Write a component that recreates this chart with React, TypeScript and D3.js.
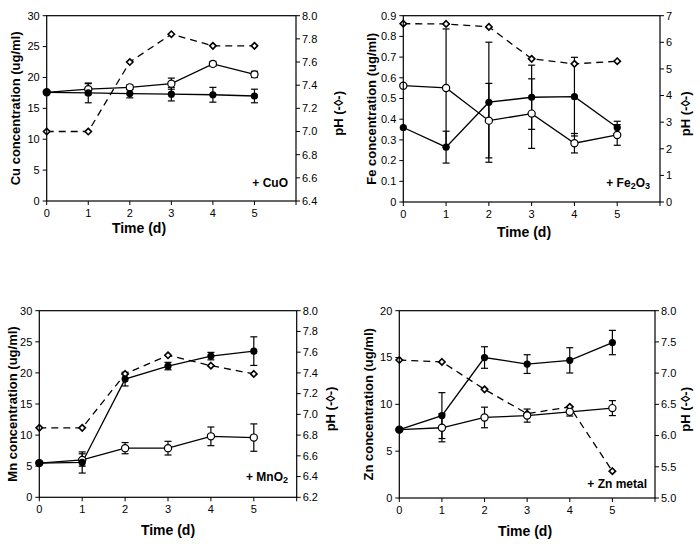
import * as d3 from 'd3';

const days = [0, 1, 2, 3, 4, 5];

// + CuO
const cuFilled = [17.6, 17.5, 17.4, 17.3, 17.2, 17.0];
const cuFilledErr = [0, 1.6, 0.7, 1.1, 1.2, 1.1];
const cuOpen = [17.6, 18.1, 18.4, 19.0, 22.2, 20.5];
const cuOpenErr = [0, 0.9, 0.4, 0.9, 0.4, 0.5];
const cuPH = [7.0, 7.0, 7.6, 7.84, 7.74, 7.74];
const cuTicks = [0, 5, 10, 15, 20, 25, 30];
const cuPHTicks = [6.4, 6.6, 6.8, 7.0, 7.2, 7.4, 7.6, 7.8, 8.0];

// + Fe2O3
const feFilled = [0.36, 0.265, 0.482, 0.506, 0.509, 0.36];
const feFilledErr = [0, 0.077, 0.29, 0.155, 0.19, 0.03];
const feOpen = [0.562, 0.551, 0.393, 0.427, 0.284, 0.324];
const feOpenErr = [0, 0.285, 0.18, 0.168, 0.047, 0.05];
const fePH = [6.7, 6.69, 6.58, 5.38, 5.19, 5.29];
const feTicks = [0, 0.1, 0.2, 0.3, 0.4, 0.5, 0.6, 0.7, 0.8, 0.9];
const fePHTicks = [0, 1, 2, 3, 4, 5, 6, 7];

// + MnO2
const mnFilled = [5.5, 5.6, 19.0, 21.1, 22.7, 23.5];
const mnFilledErr = [0, 1.7, 1.1, 0.6, 0.6, 2.3];
const mnOpen = [5.5, 6.0, 7.9, 7.9, 9.8, 9.6];
const mnOpenErr = [0, 1.0, 0.9, 1.1, 1.5, 2.2];
const mnPH = [6.87, 6.87, 7.39, 7.57, 7.47, 7.39];
const mnTicks = [0, 5, 10, 15, 20, 25, 30];
const mnPHTicks = [6.2, 6.4, 6.6, 6.8, 7.0, 7.2, 7.4, 7.6, 7.8, 8.0];

// + Zn metal
const znFilled = [7.3, 8.8, 15.0, 14.3, 14.7, 16.6];
const znFilledErr = [0, 2.45, 1.15, 1.0, 1.35, 1.3];
const znOpen = [7.3, 7.5, 8.6, 8.8, 9.2, 9.6];
const znOpenErr = [0, 1.5, 1.1, 0.7, 0.45, 0.8];
const znPH = [7.21, 7.18, 6.74, 6.35, 6.46, 5.43];
const znTicks = [0, 5, 10, 15, 20];
const znPHTicks = [5.0, 5.5, 6.0, 6.5, 7.0, 7.5, 8.0];

const FONT = '"Liberation Sans", Arial, Helvetica, sans-serif';

interface PanelProps {
  frame: { x0: number; x1: number; y0: number; y1: number };
  yTicks: number[];
  yFormat: (d: number) => string;
  phTicks: number[];
  phFormat: (d: number) => string;
  filled: number[];
  filledErr: number[];
  open: number[];
  openErr: number[];
  ph: number[];
  yTitle: string;
  yTitleX: number;
  phTitleX: number;
  timeX: number;
  timeDy: number;
  tag: React.ReactNode;
  tagX: number;
  tagY: number;
}

function Panel(p: PanelProps) {
  const { x0, x1, y0, y1 } = p.frame;
  const x = d3.scaleLinear().domain([0, 6]).range([x0, x1]);
  const y = d3.scaleLinear().domain([p.yTicks[0], p.yTicks[p.yTicks.length - 1]]).range([y1, y0]);
  const yr = d3.scaleLinear().domain([p.phTicks[0], p.phTicks[p.phTicks.length - 1]]).range([y1, y0]);

  const line = d3.line<number>().x((_, i) => x(days[i]));
  const solid = (vals: number[]) => line.y((d) => y(d))(vals) || '';
  const phPath = line.y((d) => yr(d))(p.ph) || '';
  const cap = 3.5;

  const errBars = (vals: number[], errs: number[], key: string) =>
    vals.map((v, i) =>
      errs[i] > 0 ? (
        <g key={key + i} stroke="#000" strokeWidth={1.2}>
          <line x1={x(days[i])} x2={x(days[i])} y1={y(v - errs[i])} y2={y(v + errs[i])} />
          <line x1={x(days[i]) - cap} x2={x(days[i]) + cap} y1={y(v + errs[i])} y2={y(v + errs[i])} />
          <line x1={x(days[i]) - cap} x2={x(days[i]) + cap} y1={y(v - errs[i])} y2={y(v - errs[i])} />
        </g>
      ) : null
    );

  const midY = (y0 + y1) / 2;

  return (
    <g fontFamily={FONT}>
      {errBars(p.open, p.openErr, 'oe')}
      {errBars(p.filled, p.filledErr, 'fe')}
      <path d={phPath} fill="none" stroke="#000" strokeWidth={1.3} strokeDasharray="7,5" />
      <path d={solid(p.open)} fill="none" stroke="#000" strokeWidth={1.3} />
      <path d={solid(p.filled)} fill="none" stroke="#000" strokeWidth={1.3} />
      {p.ph.map((v, i) => {
        const cx = x(days[i]);
        const cy = yr(v);
        const r = 3.2;
        return (
          <path
            key={'d' + i}
            d={`M${cx},${cy - r}L${cx + r},${cy}L${cx},${cy + r}L${cx - r},${cy}Z`}
            fill="#fff"
            stroke="#000"
            strokeWidth={1.6}
          />
        );
      })}
      {p.open.map((v, i) => (
        <circle key={'o' + i} cx={x(days[i])} cy={y(v)} r={3.6} fill="#fff" stroke="#000" strokeWidth={1.2} />
      ))}
      {p.filled.map((v, i) => (
        <circle key={'f' + i} cx={x(days[i])} cy={y(v)} r={3.6} fill="#000" />
      ))}

      <rect x={x0} y={y0} width={x1 - x0} height={y1 - y0} fill="none" stroke="#000" strokeWidth={1.2} />

      {p.yTicks.map((t) => (
        <g key={'yl' + t}>
          <line x1={x0 - 4} x2={x0} y1={y(t)} y2={y(t)} stroke="#000" strokeWidth={1} />
          <text x={x0 - 7} y={y(t)} dy="0.35em" textAnchor="end" fontSize={11}>
            {p.yFormat(t)}
          </text>
        </g>
      ))}
      {p.phTicks.map((t) => (
        <g key={'yr' + t}>
          <line x1={x1} x2={x1 + 4} y1={yr(t)} y2={yr(t)} stroke="#000" strokeWidth={1} />
          <text x={x1 + 6} y={yr(t)} dy="0.35em" textAnchor="start" fontSize={11}>
            {p.phFormat(t)}
          </text>
        </g>
      ))}
      {[...days, 6].map((t) => (
        <g key={'x' + t}>
          <line x1={x(t)} x2={x(t)} y1={y1} y2={y1 + 4} stroke="#000" strokeWidth={1} />
          {t < 6 && (
            <text x={x(t)} y={y1 + 16} textAnchor="middle" fontSize={11}>
              {t}
            </text>
          )}
        </g>
      ))}

      <text x={p.timeX} y={y1 + p.timeDy} textAnchor="middle" fontSize={14} fontWeight="bold">
        Time (d)
      </text>
      <text
        transform={`translate(${p.yTitleX},${midY}) rotate(-90)`}
        textAnchor="middle"
        dy="0.35em"
        fontSize={13}
        fontWeight="bold"
      >
        {p.yTitle}
      </text>
      <text
        transform={`translate(${p.phTitleX},${midY + 5}) rotate(-90)`}
        textAnchor="middle"
        dy="0.35em"
        fontSize={13}
        fontWeight="bold"
      >
        pH (-◊-)
      </text>
      <text x={p.tagX} y={p.tagY} fontSize={12} fontWeight="bold" textAnchor="end">
        {p.tag}
      </text>
    </g>
  );
}

const intFmt = (d: number) => d3.format('d')(d);
const oneFmt = (d: number) => d3.format('.1f')(d);
const feFmt = (d: number) => (d === 0 ? '0' : d3.format('.1f')(d));

export default function App() {
  return (
    <svg width={700} height={544} style={{ position: 'absolute', left: 0, top: 0, background: '#fff' }}>
      <rect width={700} height={544} fill="#fff" />
      <Panel
        frame={{ x0: 46.7, x1: 296, y0: 15.7, y1: 201 }}
        yTicks={cuTicks}
        yFormat={intFmt}
        phTicks={cuPHTicks}
        phFormat={oneFmt}
        filled={cuFilled}
        filledErr={cuFilledErr}
        open={cuOpen}
        openErr={cuOpenErr}
        ph={cuPH}
        yTitle="Cu concentration (ug/ml)"
        yTitleX={15}
        phTitleX={338}
        timeX={139}
        timeDy={32}
        tag="+ CuO"
        tagX={288}
        tagY={187}
      />
      <Panel
        frame={{ x0: 403.3, x1: 660, y0: 15.7, y1: 202 }}
        yTicks={feTicks}
        yFormat={feFmt}
        phTicks={fePHTicks}
        phFormat={intFmt}
        filled={feFilled}
        filledErr={feFilledErr}
        open={feOpen}
        openErr={feOpenErr}
        ph={fePH}
        yTitle="Fe concentration (ug/ml)"
        yTitleX={371}
        phTitleX={685}
        timeX={524}
        timeDy={35}
        tag={
          <>
            + Fe<tspan fontSize={9} dy={2}>2</tspan>
            <tspan dy={-2}>O</tspan>
            <tspan fontSize={9} dy={2}>3</tspan>
          </>
        }
        tagX={650}
        tagY={187}
      />
      <Panel
        frame={{ x0: 39.3, x1: 296.7, y0: 310.7, y1: 497.3 }}
        yTicks={mnTicks}
        yFormat={intFmt}
        phTicks={mnPHTicks}
        phFormat={oneFmt}
        filled={mnFilled}
        filledErr={mnFilledErr}
        open={mnOpen}
        openErr={mnOpenErr}
        ph={mnPH}
        yTitle="Mn concentration (ug/ml)"
        yTitleX={12}
        phTitleX={330}
        timeX={168}
        timeDy={38}
        tag={
          <>
            + MnO<tspan fontSize={9} dy={2}>2</tspan>
          </>
        }
        tagX={288}
        tagY={481}
      />
      <Panel
        frame={{ x0: 399.3, x1: 655, y0: 310.7, y1: 498 }}
        yTicks={znTicks}
        yFormat={intFmt}
        phTicks={znPHTicks}
        phFormat={oneFmt}
        filled={znFilled}
        filledErr={znFilledErr}
        open={znOpen}
        openErr={znOpenErr}
        ph={znPH}
        yTitle="Zn concentration (ug/ml)"
        yTitleX={368}
        phTitleX={685}
        timeX={525}
        timeDy={38}
        tag="+ Zn metal"
        tagX={647}
        tagY={488}
      />
    </svg>
  );
}
